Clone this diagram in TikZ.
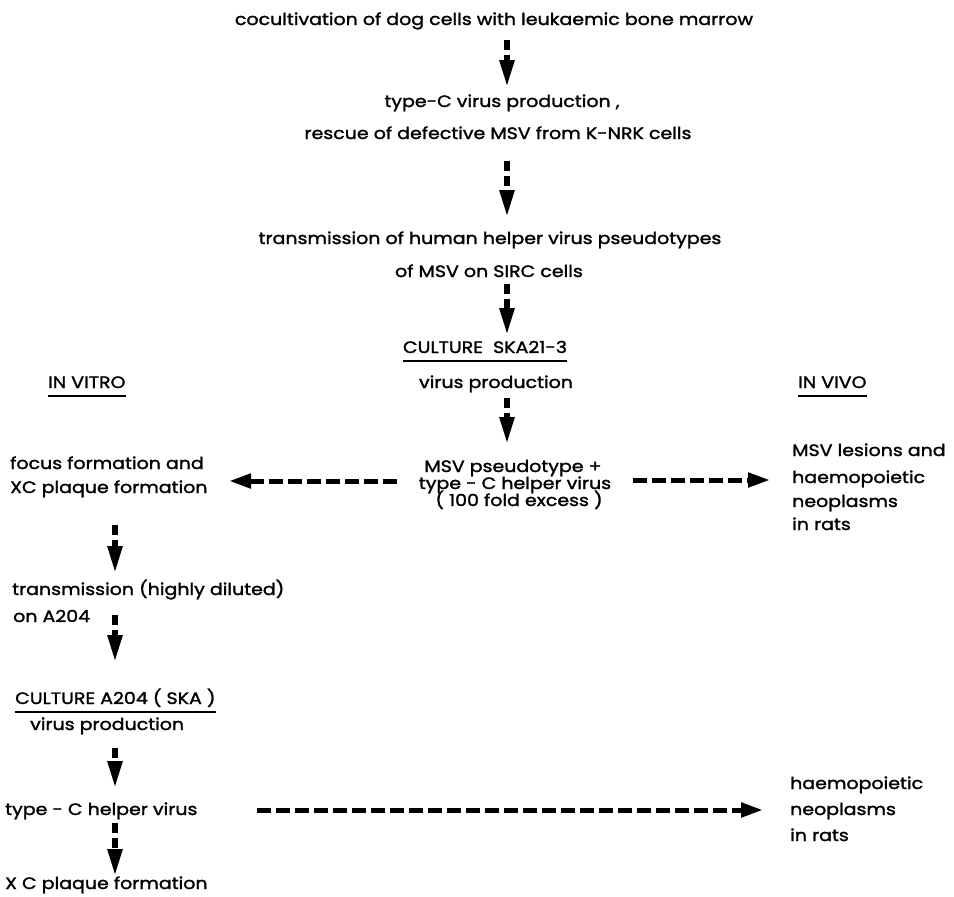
\documentclass[tikz,border=0pt]{standalone}
\usepackage{fontspec}
\newfontfamily\diagfont{Poppins}[FakeBold=1.6,FakeStretch=1.15]
\usetikzlibrary{arrows.meta,calc}
\begin{document}
\begin{tikzpicture}[x=1pt,y=-1pt,
  txt/.style={inner sep=0pt, anchor=base, font=\diagfont\fontsize{16.5}{20}\selectfont},
  ltxt/.style={txt, anchor=base west},
  varrow/.style={line width=5.5pt, dash pattern=on 10pt off 5pt, -{Triangle[length=27pt,width=14pt]}},
  harrow/.style={line width=5pt, dash pattern=on 14pt off 5pt, -{Triangle[length=22pt,width=14pt]}},
  uline/.style={line width=1.6pt}]
\useasboundingbox (0,0) rectangle (954,897);
\coordinate (cx) at (507,0);
\coordinate (lx) at (115,0);
\coordinate (hL) at (0,481);
\coordinate (hR) at (0,480);
\coordinate (hB) at (0,810);

\node[txt] (title) at (494,25) {cocultivation of dog cells with leukaemic bone marrow};
\node[txt] (tcv) at (502,107) {type-C virus production ,};
\node[txt] (rescue) at (498,139) {rescue of defective MSV from K-NRK cells};
\node[txt] (trans) at (490,244) {transmission of human helper virus pseudotypes};
\node[txt] (ofmsv) at (489,277) {of MSV on SIRC cells};
\node[txt] (culture) at (485,353) {CULTURE\ \ SKA21-3};
\node[ltxt] (invitro) at (48,388) {IN VITRO};
\node[txt] (vprod) at (496,388) {virus production};
\node[ltxt] (invivo) at (798,388) {IN VIVO};
\node[txt] (msvp1) at (513,472) {MSV pseudotype +};
\node[txt] (msvp2) at (515,489) {type - C helper virus};
\node[txt] (msvp3) at (519,506) {( 100 fold excess )};
\node[ltxt] (focus1) at (10,469) {focus formation and};
\node[ltxt] (focus2) at (10,493) {XC plaque formation};
\node[ltxt] (les1) at (792,456) {MSV lesions and};
\node[ltxt] (les2) at (792,483) {haemopoietic};
\node[ltxt] (les3) at (792,507) {neoplasms};
\node[ltxt] (les4) at (792,530) {in rats};
\node[ltxt] (trans2a) at (12,595) {transmission (highly diluted)};
\node[ltxt] (trans2b) at (13,622) {on A204};
\node[ltxt] (cultA) at (15,704) {CULTURE A204 ( SKA )};
\node[ltxt] (vprod2) at (30,730) {virus production};
\node[ltxt] (typeC2) at (5,815) {type - C helper virus};
\node[ltxt] (hae1) at (790,789) {haemopoietic};
\node[ltxt] (hae2) at (790,815) {neoplasms};
\node[ltxt] (hae3) at (790,841) {in rats};
\node[ltxt] (xc2) at (5,889) {X C plaque formation};

\draw[uline] ($(culture.base west)+(0,8)$) -- ($(culture.base east)+(0,8)$);
\draw[uline] ($(invitro.base west)+(0,8)$) -- ($(invitro.base east)+(0,8)$);
\draw[uline] ($(invivo.base west)+(0,8)$) -- ($(invivo.base east)+(0,8)$);
\draw[uline] ($(cultA.base west)+(0,8)$) -- ($(cultA.base east)+(0,8)$);

\draw[varrow] ($(title.base -| cx)+(0,15)$) -- ($(tcv.base -| cx)+(0,-20)$);
\draw[varrow] ($(rescue.base -| cx)+(0,22)$) -- ($(trans.base -| cx)+(0,-27)$);
\draw[varrow] ($(ofmsv.base -| cx)+(0,7)$) -- ($(culture.base -| cx)+(0,-18)$);
\draw[varrow] ($(vprod.base -| cx)+(0,10)$) -- ($(msvp1.base -| cx)+(0,-28)$);
\draw[varrow] ($(focus2.base -| lx)+(0,32)$) -- ($(trans2a.base -| lx)+(0,-22)$);
\draw[varrow] ($(trans2b.base -| lx)+(0,-7)$) -- ($(cultA.base -| lx)+(0,-42)$);
\draw[varrow] ($(vprod2.base -| lx)+(0,18)$) -- ($(typeC2.base -| lx)+(0,-27)$);
\draw[varrow] ($(typeC2.base -| lx)+(0,8)$) -- ($(xc2.base -| lx)+(0,-13)$);

\draw[harrow] ($(msvp2.base |- hL)+(-118,0)$) -- ($(focus2.base west |- hL)+(219,0)$);
\draw[harrow] ($(msvp2.base |- hR)+(118,0)$) -- ($(les2.base west |- hR)+(-22,0)$);
\draw[harrow] ($(typeC2.base west |- hB)+(252,0)$) -- ($(hae2.base west |- hB)+(-27,0)$);
\end{tikzpicture}
\end{document}
